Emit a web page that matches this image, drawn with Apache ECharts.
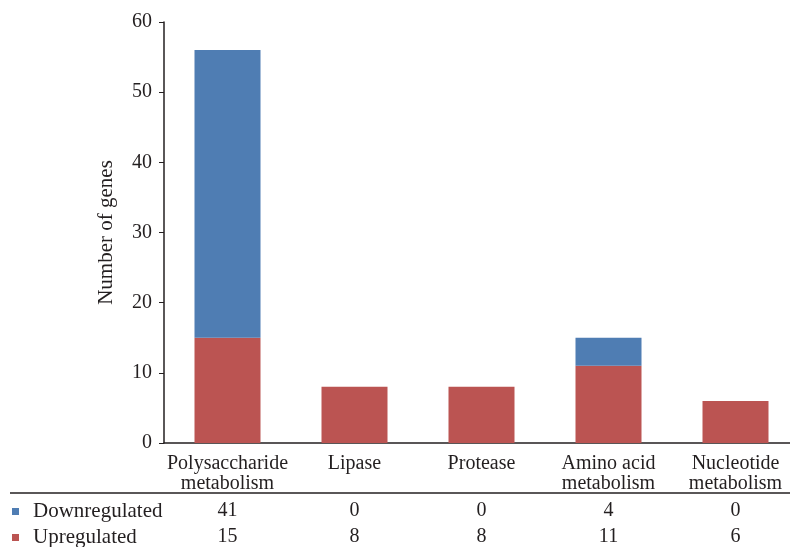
<!DOCTYPE html>
<html><head><meta charset="utf-8">
<script src="https://cdn.jsdelivr.net/npm/echarts@6/dist/echarts.min.js"></script>
<style>html,body{margin:0;padding:0;background:#fff}#c{width:790px;height:547px}</style>
</head><body><div id="c"></div>
<script>
const categories = ['Polysaccharide\nmetabolism', 'Lipase', 'Protease', 'Amino acid\nmetabolism', 'Nucleotide\nmetabolism'];
const downregulated = [41, 0, 0, 4, 0];
const upregulated = [15, 8, 8, 11, 6];
const yTicks = {min: 0, max: 60, interval: 10};

const FONT = 'Liberation Serif';
const FS = 20;
const TXT = '#231f20';
const BLUE = '#4f7db3';
const RED = '#bb5452';

const chart = echarts.init(document.getElementById('c'));
const tableAxis = (vals, margin) => ({
  type: 'category', gridIndex: 0, position: 'bottom', data: vals.map(String),
  axisLine: {show: false}, axisTick: {show: false}, splitLine: {show: false},
  axisLabel: {margin: margin, fontFamily: FONT, fontSize: FS, color: TXT, interval: 0}
});
const legendRow = (name, top) => ({
  orient: 'vertical', left: 12, top: top, padding: 0,
  data: [name], icon: 'rect', itemWidth: 7, itemHeight: 7,
  textStyle: {fontFamily: FONT, fontSize: 21, color: TXT, padding: [0, 0, 0, 9]},
  selectedMode: false
});
chart.setOption({
  animation: false,
  backgroundColor: '#fff',
  grid: {left: 164, top: 22, height: 421, width: 635, containLabel: false, outerBoundsMode: 'none'},
  legend: [legendRow('Downregulated', 501), legendRow('Upregulated', 527)],
  xAxis: [
    {
      type: 'category', data: categories,
      axisLine: {lineStyle: {color: TXT, width: 1.5}},
      axisTick: {show: false},
      axisLabel: {margin: 11, fontFamily: FONT, fontSize: FS, color: TXT, lineHeight: 20, interval: 0}
    },
    tableAxis(downregulated, 58),
    tableAxis(upregulated, 84)
  ],
  yAxis: {
    type: 'value', min: yTicks.min, max: yTicks.max, interval: yTicks.interval,
    name: 'Number of genes', nameLocation: 'middle', nameGap: 47,
    nameTextStyle: {fontFamily: FONT, fontSize: 21, color: TXT},
    axisLine: {show: true, lineStyle: {color: TXT, width: 1.5}},
    axisTick: {show: true, length: 5, lineStyle: {color: TXT}},
    splitLine: {show: false},
    axisLabel: {margin: 12, fontFamily: FONT, fontSize: FS, color: TXT}
  },
  graphic: [{type: 'line', shape: {x1: 10, y1: 493, x2: 790, y2: 493}, style: {stroke: TXT, lineWidth: 1.5}}],
  series: [
    {name: 'Upregulated', type: 'bar', stack: 's', data: upregulated, barWidth: 66, itemStyle: {color: RED}},
    {name: 'Downregulated', type: 'bar', stack: 's', data: downregulated, barWidth: 66, itemStyle: {color: BLUE}}
  ]
});
</script></body></html>
